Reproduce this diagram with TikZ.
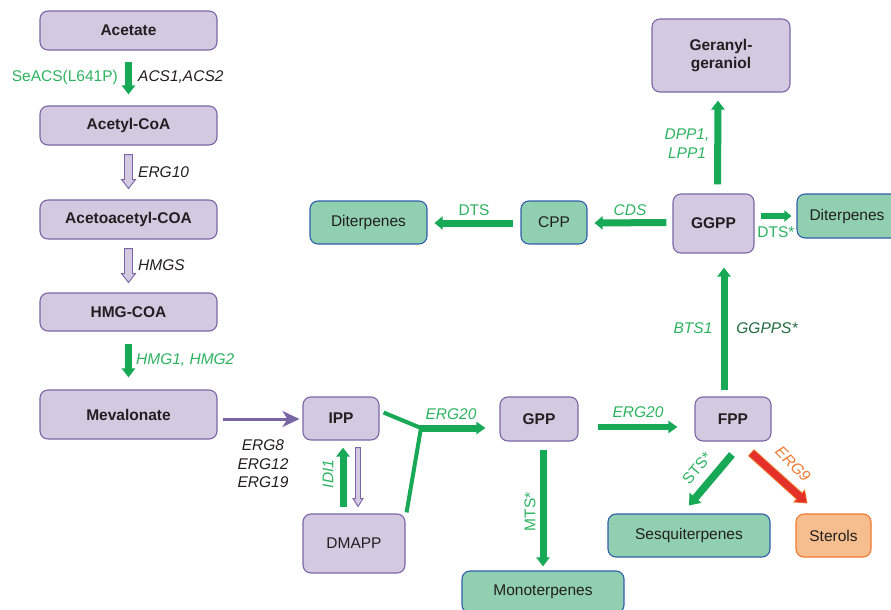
\documentclass[tikz,border=0pt]{standalone}
\usepackage{fontspec}
\setmainfont{Liberation Sans}
\usetikzlibrary{arrows.meta,calc}

\definecolor{lavfill}{HTML}{D3C9E1}
\definecolor{lavline}{HTML}{7A66A6}
\definecolor{grnfill}{HTML}{90CFB0}
\definecolor{grnline}{HTML}{2F5EAB}
\definecolor{orgfill}{HTML}{F6BE8E}
\definecolor{orgline}{HTML}{F07A2C}
\definecolor{arrgreen}{HTML}{17A955}
\definecolor{lblgreen}{HTML}{2DB360}
\definecolor{darkgreen}{HTML}{1E6B3C}
\definecolor{redarrow}{HTML}{E3302A}
\definecolor{lblorange}{HTML}{F07A30}
\definecolor{purplearr}{HTML}{7A66A6}
\definecolor{ink}{HTML}{231F20}

\newcommand\lblfont{\fontsize{15.5}{18.5}\selectfont}

\begin{document}
\begin{tikzpicture}[x=1pt,y=-1pt,
  box/.style={rounded corners=8pt, line width=1.1pt, inner sep=0pt, text=ink, align=center},
  lav/.style={box, draw=lavline, fill=lavfill, font=\lblfont\bfseries},
  grn/.style={box, draw=grnline, fill=grnfill, font=\lblfont},
  org/.style={box, draw=orgline, fill=orgfill, font=\lblfont},
  fat/.style={draw=arrgreen, line width=7pt, -{Triangle[length=9pt,width=13pt]}},
  thin/.style={draw=arrgreen, line width=4pt},
  hollow/.style={draw=lavline, fill=lavfill, line width=0.9pt, line join=miter},
  enz/.style={font=\lblfont\itshape, text=ink, inner sep=0pt},
  genz/.style={font=\lblfont\itshape, text=lblgreen, inner sep=0pt},
  gtxt/.style={font=\lblfont, text=lblgreen, inner sep=0pt}
]
\useasboundingbox (0,0) rectangle (891,610);
\clip (0,0) rectangle (891,610);

% ---- mevalonate pathway column ----
\node[lav, minimum width=177pt, minimum height=39pt] (acetate) at (128.5,30.5) {Acetate};
\node[lav, minimum width=177pt, minimum height=39pt] (acetyl) at (128.5,125.5) {Acetyl-CoA};
\node[lav, minimum width=177pt, minimum height=39pt] (acac) at (128.5,219.5) {Acetoacetyl-COA};
\node[lav, minimum width=177pt, minimum height=38pt] (hmg) at (128.5,312) {HMG-COA};
\node[lav, minimum width=177pt, minimum height=49pt] (meval) at (128.5,414.5) {Mevalonate};

% ---- isoprenoid core ----
\node[lav, minimum width=76pt, minimum height=43pt] (ipp) at (341,418.5) {IPP};
\node[box, draw=lavline, fill=lavfill, font=\lblfont, minimum width=102pt, minimum height=59pt] (dmapp) at (354,543.5) {DMAPP};
\node[lav, minimum width=78pt, minimum height=44pt] (gpp) at (539,419) {GPP};
\node[lav, minimum width=76pt, minimum height=44pt] (fpp) at (733,419) {FPP};
\node[lav, minimum width=81pt, minimum height=59pt] (ggpp) at (713.5,223.5) {GGPP};
\node[lav, minimum width=138pt, minimum height=73pt] (gg) at (721,55.5) {Geranyl-\\geraniol};

% ---- products ----
\node[grn, minimum width=162pt, minimum height=42pt] (mono) at (543,592) {Monoterpenes};
\node[grn, minimum width=162pt, minimum height=43pt] (sesq) at (689,535.5) {Sesquiterpenes};
\node[org, minimum width=75pt, minimum height=43pt] (sterols) at (833.5,535.5) {Sterols};
\node[grn, minimum width=110pt, minimum height=44pt] (dir) at (852,216) {\hspace*{-10pt}Diterpenes};
\node[grn, minimum width=66pt, minimum height=43pt] (cpp) at (554,222.5) {CPP};
\node[grn, minimum width=117pt, minimum height=43pt] (dil) at (368.5,222.5) {Diterpenes};

% ---- column arrows ----
\draw[fat, shorten <=11pt, shorten >=11pt] (acetate) -- (acetyl);
\node[gtxt, anchor=east] (l1) at (118,77) {SeACS(L641P)};
\node[enz, anchor=west] (l2) at (138,77) {ACS1,ACS2};

\draw[hollow] ($(acetyl.south)+(-4,9)$) -- ++(0,25) -- ++(-3,0) -- ++(7,9) -- ++(7,-9) -- ++(-3,0) -- ++(0,-25) -- cycle;
\node[enz, anchor=west] (l3) at (138,172) {ERG10};

\draw[hollow] ($(acac.south)+(-4,9)$) -- ++(0,25) -- ++(-3,0) -- ++(7,9) -- ++(7,-9) -- ++(-3,0) -- ++(0,-25) -- cycle;
\node[enz, anchor=west] (l4) at (138,265) {HMGS};

\draw[fat, shorten <=12pt, shorten >=12pt] (hmg) -- (meval);
\node[genz, anchor=west] (l5) at (136,360) {HMG1, HMG2};

% ---- mevalonate to IPP ----
\draw[draw=purplearr, line width=3pt, -{Stealth[length=17pt,width=16pt,inset=5pt]}, shorten <=5pt, shorten >=3pt]
  ($(meval.east)+(0,4.5)$) -- ($(ipp.west)+(0,0.5)$);
\node[enz, align=center] (l6) at (263,464) {ERG8\\ERG12\\ERG19};

% ---- IPP / DMAPP isomerisation ----
\draw[fat, shorten <=6pt, shorten >=7pt] ($(dmapp.north)+(-11,0)$) -- ($(ipp.south)+(2,0)$);
\node[genz, rotate=90] (l7) at (328,474) {IDI1};
\draw[hollow] ($(ipp.south)+(14.5,7)$) -- ++(0,51) -- ++(-2.5,0) -- ++(5,8) -- ++(5,-8) -- ++(-2.5,0) -- ++(0,-51) -- cycle;

% ---- condensation to GPP ----
\coordinate (J) at (421,428);
\draw[thin] ($(ipp.east)+(4,-6)$) -- (J);
\draw[thin] ($(dmapp.north east)+(1,-1)$) -- (J);
\draw[fat, -{Triangle[length=9pt,width=12pt]}] ($(J)+(-2,0)$) -- ($(gpp.west)+(-14,9)$);
\node[genz] (l8) at (451,414) {ERG20};

\draw[fat, line width=6.5pt, -{Triangle[length=9pt,width=12pt]}] ($(gpp.east)+(19,8)$) -- ($(fpp.west)+(-17,8)$);
\node[genz] (l9) at (638,412) {ERG20};

\draw[fat] ($(gpp.south)+(4,8)$) -- ($(mono.north)+(0,-4)$);
\node[gtxt, rotate=90] (l10) at (530,512) {MTS*};

% ---- FPP branches ----
\draw[fat, line width=7.5pt, -{Triangle[length=10pt,width=15pt]}] ($(fpp.south)+(-1,13)$) -- ($(sesq.north)+(0,-8)$);
\node[gtxt, rotate=50] (l11) at (697,468) {STS*};
\draw[draw=orgline, line width=9pt, -{Triangle[length=11.5pt,width=17pt]}] ($(fpp.south)+(18,11)$) -- ($(sterols.north)+(-26,-10)$);
\draw[draw=redarrow, line width=7pt, -{Triangle[length=9pt,width=13.5pt]}, shorten >=1.3pt] ($(fpp.south)+(18.6,11.5)$) -- ($(sterols.north)+(-26,-10)$);
\node[font=\lblfont\itshape, text=lblorange, rotate=-45] (l12) at (793,464) {ERG9};

\draw[fat] ($(fpp.north)+(-9,-6)$) -- ($(ggpp.south)+(10.5,14)$);
\node[genz] (l13) at (693,328) {BTS1};
\node[font=\lblfont\itshape, text=darkgreen, inner sep=0pt] (l14) at (767,328) {GGPPS*};

% ---- GGPP branches ----
\draw[fat] ($(ggpp.north)+(4,-9)$) -- ($(gg.south)+(-3,8)$);
\node[genz, align=center] (l15) at (687,143.5) {DPP1,\\LPP1};

\draw[fat, line width=6pt, -{Triangle[length=7pt,width=11pt]}] ($(ggpp.east)+(6,-7.5)$) -- ($(dir.west)+(-5,0)$);
\node[gtxt] (l16) at (776,232) {DTS*};

\draw[fat, -{Triangle[length=8pt,width=13pt]}] ($(ggpp.west)+(-6,-1)$) -- ($(cpp.east)+(7,0.5)$);
\node[genz] (l17) at (630,210) {CDS};

\draw[fat, -{Triangle[length=8pt,width=13pt]}] ($(cpp.west)+(-7,0.5)$) -- ($(dil.east)+(7,0.5)$);
\node[gtxt] (l18) at (474,210) {DTS};
\end{tikzpicture}
\end{document}
